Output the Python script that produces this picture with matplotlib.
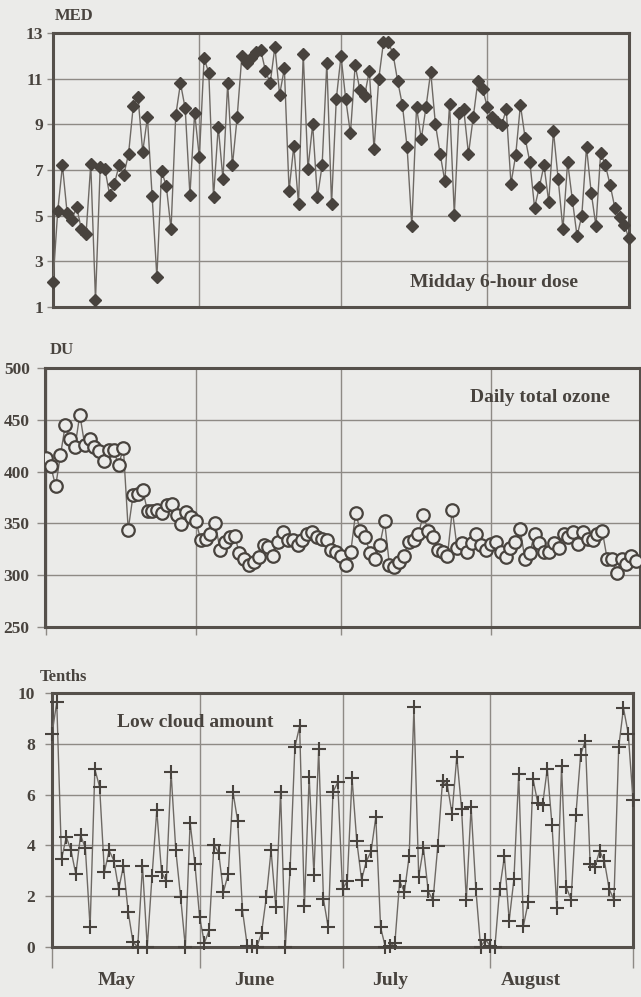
import numpy as np
import matplotlib
matplotlib.use("Agg")
import matplotlib.pyplot as plt

plt.rcParams['font.family'] = ['Liberation Serif', 'DejaVu Serif']
plt.rcParams['font.weight'] = 'bold'

# daily values, 1 May .. 31 August
med_dose = [2.1, 5.2, 7.2, 5.1, 4.8, 5.4, 4.4, 4.2, 7.25, 1.3, 7.15, 7.05, 5.9, 6.4, 7.2, 6.8,
            7.7, 9.8, 10.2, 7.8, 9.3, 5.85, 2.3, 6.95, 6.3, 4.4, 9.4, 10.8, 9.7, 5.9, 9.5, 7.55,
            11.9, 11.25, 5.8, 8.9, 6.6, 10.8, 7.2, 9.3, 12.0, 11.7, 11.9, 12.15, 12.25, 11.35,
            10.8, 12.4, 10.3, 11.45, 6.1, 8.05, 5.5, 12.1, 7.05, 9.0, 5.8, 7.2, 11.7, 5.5, 10.1,
            12.0, 10.1, 8.6, 11.6, 10.5, 10.25, 11.35, 7.9, 11.0, 12.6, 12.6, 12.1, 10.9, 9.85,
            8.0, 4.55, 9.75, 8.35, 9.75, 11.3, 9.0, 7.7, 6.5, 9.9, 5.05, 9.5, 9.65, 7.7, 9.3,
            10.9, 10.55, 9.75, 9.3, 9.1, 8.95, 9.65, 6.4, 7.65, 9.85, 8.4, 7.35, 5.35, 6.25, 7.2,
            5.6, 8.7, 6.6, 4.4, 7.35, 5.7, 4.1, 5.0, 8.0, 6.0, 4.55, 7.75, 7.2, 6.35, 5.35, 4.95,
            4.6, 4.0]

ozone = [413, 405, 386, 416, 445, 431, 424, 455, 426, 431, 424, 420, 410, 421, 421, 406,
         423, 344, 377, 378, 382, 362, 362, 363, 360, 368, 369, 358, 349, 361, 356, 352,
         334, 335, 340, 350, 324, 332, 337, 338, 321, 316, 310, 313, 318, 329, 327, 319,
         332, 342, 334, 334, 329, 334, 340, 342, 337, 335, 334, 324, 322, 319, 310, 322,
         360, 343, 337, 321, 316, 329, 352, 310, 308, 313, 319, 332, 334, 340, 358, 343,
         337, 324, 322, 319, 363, 326, 331, 322, 331, 340, 329, 324, 330, 332, 322, 318,
         326, 332, 345, 316, 321, 340, 331, 322, 322, 331, 326, 340, 337, 342, 330, 342,
         335, 334, 340, 343, 316, 316, 302, 316, 311, 319, 314]

low_cloud = [8.4, 9.63, 3.46, 4.33, 3.8, 2.87, 4.4, 3.9, 0.77, 7.0, 6.3, 2.95, 3.8, 3.4, 2.28,
             3.18, 1.38, 0.2, 0.0, 3.2, 0.0, 2.78, 5.38, 2.95, 2.59, 6.88, 3.8, 1.97, 0.0, 4.9,
             3.28, 1.17, 0.16, 0.66, 4.03, 3.7, 2.17, 2.87, 6.1, 4.95, 1.44, 0.05, 0.05, 0.0,
             0.55, 1.96, 3.8, 1.57, 6.1, 0.0, 3.07, 7.87, 8.69, 1.6, 6.7, 2.85, 7.8, 1.89, 0.77,
             6.1, 6.48, 2.28, 2.59, 6.65, 4.16, 2.65, 3.37, 3.77, 5.12, 0.77, 0.0, 0.05, 0.16,
             2.59, 2.17, 3.57, 9.44, 2.76, 3.9, 2.19, 1.84, 3.96, 6.52, 6.39, 5.25, 7.5, 5.45,
             1.86, 5.51, 2.28, 0.0, 0.29, 0.05, 0.0, 2.28, 3.57, 1.04, 2.68, 6.81, 0.84, 1.76,
             6.63, 5.67, 5.58, 7.02, 4.79, 1.54, 7.11, 2.36, 1.86, 5.18, 7.57, 8.12, 3.28, 3.15,
             3.79, 3.37, 2.28, 1.86, 7.87, 9.41, 8.4, 5.8]

month_edges = [0, 31, 61, 92, 122]
month_names = ['May', 'June', 'July', 'August']
month_label_pos = [13.6, 42.4, 71.0, 100.6]

days = np.arange(len(med_dose))

W, H = 641, 997
bg = '#ebebe9'
ink = '#48433e'
line_c = '#6e6964'
grid_c = '#8e8a85'


def box(l, t, r, b):
    return [l / W, 1 - b / H, (r - l) / W, (b - t) / H]


def style(ax, ylim, yticks, ylen, ypad):
    ax.set_facecolor(bg)
    ax.set_ylim(*ylim)
    ax.set_yticks(yticks)
    ax.grid(True, color=grid_c, linewidth=1.0)
    ax.set_axisbelow(True)
    for s in ax.spines.values():
        s.set_linewidth(2.2)
        s.set_color('#55504b')
    ax.tick_params(axis='y', length=ylen, width=1.0, color=grid_c, pad=ypad,
                   labelsize=12.5, labelcolor=ink)


fig = plt.figure(figsize=(W / 100, H / 100), dpi=100)
fig.patch.set_facecolor(bg)

# top: midday dose
ax1 = fig.add_axes(box(53, 33, 629, 307))
ax1.plot(days, med_dose, color=line_c, linewidth=1.0, marker='D', markersize=5.8,
         markerfacecolor=ink, markeredgecolor=ink, clip_on=False, zorder=3)
ax1.set_xlim(0, 122)
ax1.set_xticks(month_edges[1:-1])
ax1.tick_params(axis='x', length=0, labelbottom=False)
style(ax1, (1, 13), range(1, 14, 2), 4, 3)
ax1.text(0.62, 0.09, 'Midday 6-hour dose', transform=ax1.transAxes, fontsize=14,
         color=ink, va='center', ha='left')
fig.text(55 / W, 1 - 16 / H, 'MED', fontsize=12, color=ink, va='center', ha='left')

# middle: total ozone
ax2 = fig.add_axes(box(45, 368, 640, 627))
ax2.plot(days, ozone, color=line_c, linewidth=1.0, marker='o', markersize=9,
         markerfacecolor=bg, markeredgecolor=ink, markeredgewidth=1.6, zorder=3)
ax2.set_xlim(-0.2, 122.8)
ax2.set_xticks(month_edges[:-1])
ax2.tick_params(axis='x', length=6, width=1.0, color=grid_c, labelbottom=False)
style(ax2, (250, 500), range(250, 501, 50), 6, 5)
ax2.text(0.715, 0.887, 'Daily total ozone', transform=ax2.transAxes, fontsize=14,
         color=ink, va='center', ha='left')
fig.text(50 / W, 1 - 350 / H, 'DU', fontsize=12, color=ink, va='center', ha='left')

# bottom: low cloud
ax3 = fig.add_axes(box(52, 693, 633, 947))
ax3.plot(days, low_cloud, color=line_c, linewidth=1.0, marker='+', markersize=10,
         markeredgecolor=ink, markeredgewidth=1.5, clip_on=False, zorder=3)
ax3.set_xlim(0, 122)
ax3.set_xticks(month_edges)
ax3.tick_params(axis='x', which='major', length=15, width=1.0, color=grid_c,
                labelbottom=False)
ax3.set_xticks(month_label_pos, minor=True)
ax3.set_xticklabels(month_names, minor=True)
ax3.tick_params(axis='x', which='minor', length=0, pad=18, labelsize=14, labelcolor=ink)
style(ax3, (0, 10), range(0, 11, 2), 5, 7)
ax3.text(0.112, 0.885, 'Low cloud amount', transform=ax3.transAxes, fontsize=14,
         color=ink, va='center', ha='left')
fig.text(40 / W, 1 - 677 / H, 'Tenths', fontsize=12, color=ink, va='center', ha='left')

fig.savefig('out.png', dpi=100, facecolor=bg)
